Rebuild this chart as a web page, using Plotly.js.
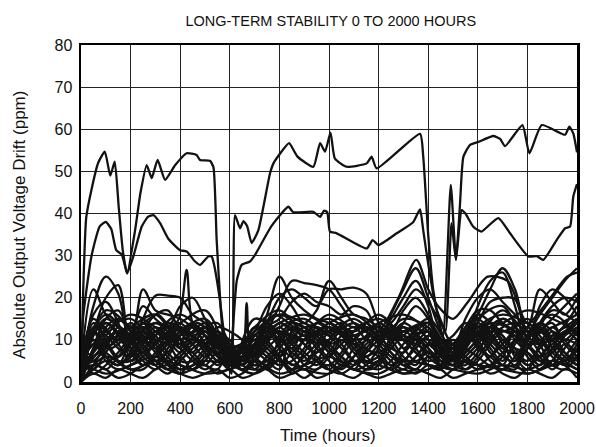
<!DOCTYPE html>
<html>
<head>
<meta charset="utf-8">
<script src="https://cdn.plot.ly/plotly-3.0.1.min.js"></script>
<style>
html,body{margin:0;padding:0;background:#fff;}
#chart{width:596px;height:447px;}
</style>
</head>
<body>
<div id="chart"></div>
<script>
// ---- Data ----
const chartTitle = "LONG-TERM STABILITY 0 TO 2000 HOURS";
const xTitle = "Time (hours)";
const yTitle = "Absolute Output Voltage Drift (ppm)";
const xTickVals = [0,200,400,600,800,1000,1200,1400,1600,1800,2000];
const yTickVals = [0,10,20,30,40,50,60,70,80];

// upper unit (~55 ppm)
const unitAHours = [0,8,21,42,69,96,118,136,152,169,186,218,240,265,285,309,339,380,426,466,480,520,534,547,563,575,590,607,621,641,655,670,688,715,762,776,800,839,873,937,964,984,1006,1024,1071,1152,1172,1192,1367,1380,1400,1420,1445,1460,1491,1512,1528,1542,1569,1602,1663,1690,1710,1780,1808,1858,1952,1969,1985,2000];
const unitAPpm   = [0,20,39,45.6,52,54.7,49,52.3,41.6,31,25.8,36,45,51.5,48.4,52.7,48,51.5,54.3,53.9,52.7,52.5,51,33.7,17.9,9,4,2,39.6,36.5,38.2,37,33,36,49.5,51.9,54,56.7,53.5,51.1,56.7,54.7,59.2,53,51.1,51.9,53.5,50.7,58.9,53.5,35,22,14,10.8,46.8,29,42,53.5,56.3,57,58.4,57.7,56,61,54.3,61,58.7,60.6,59,54.5];

// second unit (~40 ppm)
const unitBHours = [0,8,42,75,100,122,142,165,186,211,245,270,292,319,352,399,426,460,480,513,527,536,560,580,600,607,628,648,681,702,768,836,856,937,964,980,993,1004,1031,1152,1176,1199,1273,1340,1367,1380,1400,1430,1455,1470,1494,1512,1535,1550,1580,1602,1615,1683,1730,1804,1838,1864,1918,1952,1972,1985,2000];
const unitBPpm   = [0,15,29.8,36.9,38,36.3,31.3,30.2,25.8,29.8,36.9,39.2,39.6,37.7,34,31.3,31,28.6,27.8,29.8,29.8,28,19.5,10,5,8,24,27.8,28.6,30.2,37,41.6,40.3,40.4,39.2,40.7,40.3,35.7,35.3,31.7,33.7,32.5,35.3,38,41,36,28,18,14,12,37.7,29,40.8,40,37,36,35.7,38.9,35.3,29.8,29.9,29,33.7,36.5,36.9,44,47];

// units with narrow spikes
const spike1Hours = [0,50,120,200,280,350,395,426,450,500,560,620,700,800,900,1000,1100,1200,1300,1400,1480,1560,1650,1750,1850,1950,2000];
const spike1Ppm   = [6,10,8,11,9,12,15,26.6,14,11,9,5,8,12,10,9,11,13,10,12,6,10,13,11,9,12,14];
const spike2Hours = [0,80,160,240,320,400,480,560,610,650,668,685,720,800,900,1000,1100,1200,1300,1400,1480,1560,1650,1750,1850,1950,2000];
const spike2Ppm   = [3,9,12,7,10,13,9,6,4,6,18.7,6,8,14,11,13,9,7,12,14,5,9,14,12,6,10,9];
const spike3Hours = [0,70,150,230,310,390,470,550,620,700,780,860,940,1020,1100,1200,1280,1352,1400,1440,1500,1560,1640,1720,1800,1880,1960,2000];
const spike3Ppm   = [8,14,10,13,16,11,14,10,5,9,16,13,11,12,10,12,20,29,22,18,15,19,25,24,14,19,25,26];

// units sampled every 50 hours
const sampleHours = [0,50,100,150,200,250,300,350,400,450,500,550,600,650,700,750,800,850,900,950,1000,1050,1100,1150,1200,1250,1300,1350,1400,1450,1500,1550,1600,1650,1700,1750,1800,1850,1900,1950,2000];
const unitU1 = [2, 18,25,21,9, 14,12,10,13, 11,9,12,6, 5,9,16,25, 20,17,15,14, 12,10,13,11, 15,20,24,18, 8,6,12,16, 22,27,22,12, 16,20,24,27];
const unitU2 = [3, 22,16,13,10, 22,17,16,15, 13,11,8,5, 7,6,12,18, 24,23.5,23,22, 18,14,12,10, 16,22,27,20, 12,7,10,18, 24,26,18,8, 14,18,20,19];
const unitU3 = [5, 12,20,23,8, 15,20.5,20.5,20, 16,14,11,7, 4,8,14,20, 22,20,18,22, 22,22.4,21,14, 10,14,18,15, 9,5,9,14, 19,20,19.7,10, 18,22,20,16];
const unitU4 = [1, 8,15,17,12, 18,15,13,18, 20,15,10,6, 9,12,18,21, 18,14,17,24, 20,16,15,13, 12,17,20,16, 10,8,15,20, 22,19,16,13, 22,19,16,20];
const unitU5 = [4, 16,19,14,6, 12,16,17,12, 9,13,14,9, 5,7,13,15, 19,21,19,18, 16,18,17,12, 14,18,22,19, 14,9,13,17, 17,14,12,8, 12,15,18,21];
const unitL1 = [0, 8,12,9,5, 7,11,13,10, 6,4,7,5, 3,6,10,12, 9,6,4,7, 11,13,10,8, 5,3,6,9, 7,5,8,12, 14,11,7,4, 6,10,13,11];
const unitL2 = [2, 14,10,6,9, 12,8,5,7, 10,13,9,6, 5,9,14,11, 7,5,8,12, 14,9,6,4, 8,11,13,10, 6,4,7,10, 13,9,5,8, 12,14,9,6];
const unitL3 = [5, 3,7,11,13, 9,5,3,6, 9,12,10,7, 4,3,6,9, 13,12,8,5, 3,6,10,12, 11,8,5,7, 4,6,11,13, 10,7,4,10, 13,8,5,3];
const unitL4 = [1, 11,15,13,8, 4,6,9,12, 14,11,7,4, 6,10,8,5, 3,7,11,14, 12,8,5,6, 9,13,11,8, 5,3,5,8, 11,15,13,9, 5,4,8,12];
const unitL5 = [7, 5,3,6,10, 13,11,7,4, 3,6,9,8, 6,12,13,9, 6,10,12,9, 6,3,4,8, 12,10,7,4, 3,7,10,12, 8,5,9,13, 10,7,11,14];
const unitL6 = [3, 9,6,4,7, 11,14,12,8, 5,3,5,7, 9,5,3,6, 10,13,10,7, 4,6,9,11, 7,5,9,12, 8,6,3,5, 9,12,11,6, 3,5,9,7];
const unitL7 = [0, 4,9,12,10, 7,4,2,5, 8,10,12,8, 4,7,11,14, 12,9,6,3, 2,4,8,11, 13,10,7,5, 6,8,12,9, 5,3,6,10, 14,12,7,4];
const unitL8 = [4, 13,11,8,6, 9,12,10,7, 10,8,5,4, 7,4,5,8, 11,9,7,10, 13,11,8,6, 3,5,8,11, 9,7,13,15, 12,8,7,5, 8,11,13,15];
const unitL9 = [6, 2,4,7,11, 14,10,6,3, 4,7,11,10, 5,8,6,4, 5,8,13,11, 8,5,3,5, 9,12,10,6, 4,8,6,4, 6,9,12,11, 7,4,3,6];
const unitL10 = [2, 7,13,15,12, 8,5,7,11, 13,9,6,3, 8,11,9,6, 9,11,5,3, 6,10,12,9, 6,4,3,6, 5,4,9,11, 7,4,3,8, 10,6,4,8];
const unitL11 = [8, 10,5,3,4, 6,9,13,14, 11,7,4,6, 3,5,8,11, 14,13,9,6, 10,7,4,3, 5,9,12,14, 10,9,5,3, 4,7,10,12, 9,12,10,13];
const unitL12 = [1, 6,8,10,14, 11,7,4,2, 6,9,13,12, 10,6,4,7, 8,4,3,6, 9,12,14,10, 7,4,6,9, 8,5,4,7, 12,14,10,7, 4,8,12,10];
const unitL13 = [5, 12,9,5,3, 3,6,10,9, 7,11,8,5, 4,9,12,8, 4,6,9,13, 11,8,6,9, 13,11,8,4, 3,6,8,12, 9,6,5,11, 14,10,6,4];
const unitL14 = [0, 3,5,4,6, 10,13,11,8, 12,14,11,6, 7,3,4,10, 13,11,12,8, 5,3,7,10, 12,8,11,13, 6,5,10,14, 11,8,13,14, 11,7,5,9];
const unitL15 = [3, 15,12,10,8, 5,3,6,10, 7,4,3,8, 9,13,10,6, 2,4,7,9, 12,10,7,12, 10,6,4,9, 9,11,14,10, 6,10,8,4, 6,9,11,13];
const unitL16 = [9, 6,10,12,9, 12,9,5,6, 3,5,9,5, 3,5,9,13, 10,7,5,4, 7,12,13,11, 8,7,10,8, 4,3,6,9, 12,11,6,3, 9,13,10,6];
const unitL17 = [2, 10,7,5,5, 8,11,14,13, 9,6,10,4, 5,9,7,4, 7,10,14,12, 9,5,3,4, 11,14,12,7, 7,10,8,6, 4,6,12,9, 6,3,6,10];
const unitL18 = [4, 5,8,13,11, 6,4,8,12, 11,12,8,6, 8,6,10,12, 6,3,5,10, 13,9,11,13, 9,5,3,6, 5,4,3,6, 10,13,14,12, 13,10,7,5];
const unitL19 = [6, 9,14,11,7, 4,7,11,10, 13,9,5,7, 6,11,13,10, 8,12,11,8, 6,4,6,7, 4,7,11,12, 4,7,11,13, 14,10,8,7, 5,7,11,14];
const unitL20 = [1, 12,6,4,10, 13,10,9,5, 5,8,12,9, 4,7,5,3, 12,14,11,7, 4,8,10,14, 12,10,9,7, 6,9,12,8, 6,4,10,13, 9,4,5,8];
const unitL21 = [0, 2,1,3,2, 1,3,4,2, 1,2,3,1, 2,4,3,1, 2,3,1,2, 4,3,2,1, 2,3,2,4, 3,1,2,3, 4,2,1,3, 2,1,3,2];
const unitL22 = [3, 4,3,1,2, 4,5,3,2, 3,4,2,3, 1,2,4,5, 3,1,3,4, 2,1,3,5, 4,2,3,2, 1,3,5,4, 2,3,4,2, 3,5,4,1];

// units sampled every 100 hours (slower wander)
const sampleHours100 = [0,100,200,300,400,500,600,700,800,900,1000,1100,1200,1300,1400,1500,1600,1700,1800,1900,2000];
const unitM1 = [0, 12,15,10,14,17, 8,11,16,14,12, 15,11,13,9,5, 10,15,11,13,16];
const unitM2 = [4, 16,11,14,12,9, 5,13,17,12,16, 13,15,12,14,7, 15,18,9,17,14];
const unitM3 = [2, 9,13,16,10,13, 6,10,14,16,13, 11,14,16,12,4, 13,16,14,11,18];
const unitM4 = [6, 14,9,12,16,11, 4,15,12,10,14, 16,12,10,15,8, 12,14,17,15,12];
const unitM5 = [1, 17,13,8,12,15, 7,9,13,15,11, 14,10,15,13,6, 16,12,15,10,15];
const unitM6 = [3, 11,16,13,9,12, 5,12,16,13,15, 12,16,11,10,9, 11,17,12,16,11];
const unitM7 = [0, 6,3,5,4,2, 3,5,2,4,6, 3,2,5,4,3, 2,4,3,5,3];
const unitM8 = [5, 2,4,6,3,5, 4,2,5,3,2, 5,4,2,3,5, 4,3,2,4,6];

// ---- Build traces ----
const lineColor = "#121212";
const traces = [];
function addTrace(xs, ys, w, smooth) {
  traces.push({
    x: xs, y: ys, type: "scatter", mode: "lines",
    line: {color: lineColor, width: w, shape: "spline", smoothing: smooth},
    hoverinfo: "skip", showlegend: false
  });
}
const sampled50 = [unitU1,unitU2,unitU3,unitU4,unitU5,unitL1,unitL2,unitL3,unitL4,unitL5,unitL6,unitL7,unitL8,unitL9,unitL10,unitL11,unitL12,unitL13,unitL14,unitL15,unitL16,unitL17,unitL18,unitL19,unitL20,unitL21,unitL22];
sampled50.forEach(u => addTrace(sampleHours, u, 2.3, 1));
const sampled100 = [unitM1,unitM2,unitM3,unitM4,unitM5,unitM6,unitM7,unitM8];
sampled100.forEach(u => addTrace(sampleHours100, u, 2.3, 1));
addTrace(spike1Hours, spike1Ppm, 2.3, 0.8);
addTrace(spike2Hours, spike2Ppm, 2.3, 0.8);
addTrace(spike3Hours, spike3Ppm, 2.3, 0.8);
addTrace(unitBHours, unitBPpm, 2.3, 0.5);
addTrace(unitAHours, unitAPpm, 2.3, 0.5);

const fontFam = "Liberation Sans, Arial, sans-serif";
const layout = {
  width: 596, height: 447,
  margin: {l: 81, r: 19, t: 45, b: 65, pad: 0},
  paper_bgcolor: "#fff", plot_bgcolor: "#fff",
  font: {family: fontFam, color: "#111", size: 16},
  title: {text: chartTitle, font: {family: fontFam, size: 14.5, color: "#111"}, x: 0.555, xanchor: "center", y: 0.953, yanchor: "middle"},
  xaxis: {
    range: [0, 2000], tickvals: xTickVals, ticktext: xTickVals.map(String),
    showgrid: true, gridcolor: "#222", gridwidth: 1, zeroline: false,
    showline: true, mirror: true, linecolor: "#000", linewidth: 2.5,
    ticks: "", tickfont: {size: 16}, ticklabelstandoff: 10
  },
  yaxis: {
    range: [0, 80], tickvals: yTickVals, ticktext: yTickVals.map(String),
    showgrid: true, gridcolor: "#222", gridwidth: 1, zeroline: false,
    showline: true, mirror: true, linecolor: "#000", linewidth: 2.5,
    ticks: "", tickfont: {size: 16}, ticklabelstandoff: 3
  },
  annotations: [
    {text: xTitle, xref: "paper", yref: "paper", x: 0.498, y: -0.160, xanchor: "center", yanchor: "middle", showarrow: false, font: {size: 17}},
    {text: yTitle, xref: "paper", yref: "paper", x: -0.123, y: 0.466, xanchor: "center", yanchor: "middle", textangle: -90, showarrow: false, font: {size: 17}}
  ]
};
Plotly.newPlot("chart", traces, layout, {staticPlot: true, displayModeBar: false});
</script>
</body>
</html>
